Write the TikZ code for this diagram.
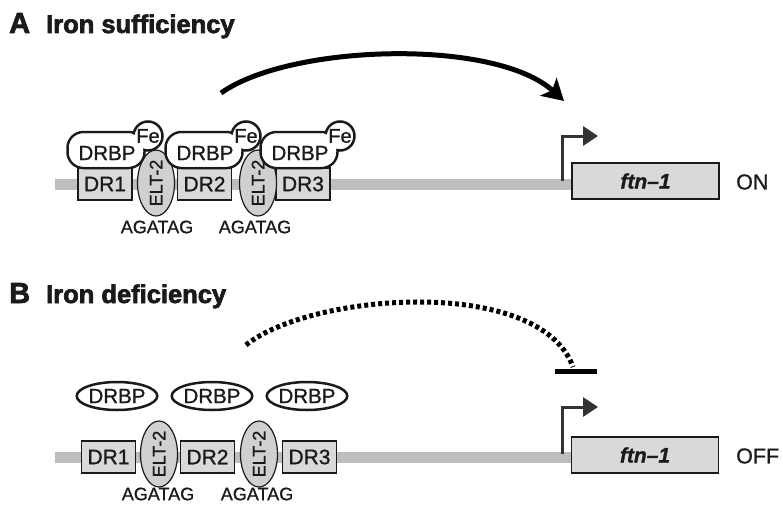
\documentclass[tikz,border=0pt]{standalone}
\usepackage{fontspec}
\setmainfont{Liberation Sans}[FakeBold=1.0]
\newfontfamily\heavyfont{Liberation Sans}[FakeBold=2.5]
\usetikzlibrary{arrows.meta,shapes.geometric}
\definecolor{dnagray}{HTML}{BEBEBE}
\definecolor{boxgray}{HTML}{D9D9D9}
\definecolor{eltgray}{HTML}{D0D0D0}
\definecolor{ink}{HTML}{1A1A1A}
\definecolor{promgray}{HTML}{333333}
\begin{document}
\begin{tikzpicture}[x=1pt,y=-1pt,
  ttl/.style={anchor=base west,inner sep=0pt,text=ink,font=\heavyfont\fontsize{25.5}{25.5}\selectfont\bfseries},
  dna/.style={line width=11pt,draw=dnagray},
  drbox/.style={draw=ink,fill=boxgray,line width=1.4pt,minimum width=54pt,minimum height=32pt,inner sep=0pt,text=ink,font=\fontsize{21}{21}\selectfont},
  elt/.style={ellipse,draw=ink,fill=eltgray,line width=1.2pt,minimum width=65pt,minimum height=37pt,inner sep=0pt,rotate=90,text=ink,font=\fontsize{18}{18}\selectfont},
  site/.style={inner sep=0pt,text=ink,font=\fontsize{18}{18}\selectfont},
  blobbody/.style={draw=ink,fill=white,line width=2.5pt,rounded corners=16pt,minimum width=77pt,minimum height=36pt,inner sep=0pt},
  blobfill/.style={fill=white,rounded corners=14.5pt,minimum width=74pt,minimum height=33pt,inner sep=0pt},
  dtext/.style={inner sep=0pt,text=ink,font=\fontsize{20.5}{20.5}\selectfont},
  fecirc/.style={circle,draw=ink,fill=white,line width=2.5pt,minimum size=29pt,inner sep=0pt},
  fetext/.style={inner sep=0pt,text=ink,font=\fontsize{20}{20}\selectfont},
  oval/.style={ellipse,draw=ink,fill=white,line width=2.5pt,minimum width=72pt,minimum height=28pt,inner sep=0pt,text=ink,font=\fontsize{20.5}{20.5}\selectfont},
  gene/.style={draw=ink,fill=boxgray,line width=1.4pt,minimum width=147pt,minimum height=36pt,inner sep=0pt,text=ink,font=\fontsize{21}{21}\selectfont\bfseries\itshape},
  state/.style={anchor=west,inner sep=0pt,text=ink,font=\fontsize{21.5}{21.5}\selectfont},
  prom/.style={draw=promgray,line width=3pt,-{Triangle[length=15pt,width=19pt]}},
  act/.style={draw=black,line width=5pt,-{Stealth[length=21pt,width=24pt,inset=5pt]}},
  inhib/.style={draw=black,line width=5pt,dash pattern=on 4pt off 3pt},
  bar/.style={draw=black,line width=5pt}
]
\useasboundingbox (0,0) rectangle (783,508);

% ---------------- Panel A ----------------
\node[ttl] (tA) at (9,33) {\fontsize{29}{29}\selectfont A};
\node[ttl] (tAt) at (46,33) {Iron sufficiency};

\coordinate (dnaAl) at (55,184);
\coordinate (dnaAr) at (575,184);
\draw[dna] (dnaAl) -- (dnaAr);

\node[drbox] (aDR1) at (105,184) {DR1};
\node[drbox] (aDR2) at (204.5,184) {DR2};
\node[drbox] (aDR3) at (303,184) {DR3};
\node[elt] (aE1) at (156,183) {ELT-2};
\node[elt] (aE2) at (258,183) {ELT-2};
\node[site] (aS1) at (157,227) {AGATAG};
\node[site] (aS2) at (255,227) {AGATAG};

\foreach \i/\bx/\fx in {1/106/148,2/204/246,3/299/340}{
  \node[blobbody] (aB\i) at (\bx,150) {};
  \node[fecirc] (aF\i) at (\fx,136) {};
  \node[blobfill] (aBf\i) at (\bx,150) {};
  \node[dtext] (aT\i) at (\bx+1,153) {DRBP};
  \node[fetext] (aFe\i) at (\fx,136) {Fe};
}

\node[gene] (aG) at (645.5,181) {ftn\textendash1};
\node[state] (aON) at (736,182) {ON};
\coordinate (aP) at (562,181);
\coordinate (aPt) at (562,136);
\coordinate (aPe) at (598,136);
\draw[prom] (aP) -- (aPt) -- (aPe);

\coordinate (aSrc) at (221,93);
\coordinate (aTgt) at (564,101);
\draw[act] (aSrc) .. controls (290,44) and (495,38) .. (aTgt);

% ---------------- Panel B ----------------
\node[ttl] (tB) at (9,303) {\fontsize{29}{29}\selectfont B};
\node[ttl] (tBt) at (46,303) {Iron deficiency};

\coordinate (dnaBl) at (55,457);
\coordinate (dnaBr) at (575,457);
\draw[dna] (dnaBl) -- (dnaBr);

\node[drbox] (bDR1) at (108.5,457) {DR1};
\node[drbox] (bDR2) at (207.5,457) {DR2};
\node[drbox] (bDR3) at (309.5,457) {DR3};
\node[elt] (bE1) at (159,454) {ELT-2};
\node[elt] (bE2) at (259,454) {ELT-2};
\node[site] (bS1) at (158,494) {AGATAG};
\node[site] (bS2) at (257,494) {AGATAG};

\node[oval] (bO1) at (117,396) {DRBP};
\node[oval] (bO2) at (212,396) {DRBP};
\node[oval] (bO3) at (307,396) {DRBP};

\node[gene] (bG) at (645,455) {ftn\textendash1};
\node[state] (bOFF) at (736,456) {OFF};
\coordinate (bP) at (562,454);
\coordinate (bPt) at (562,407);
\coordinate (bPe) at (598,407);
\draw[prom] (bP) -- (bPt) -- (bPe);

\coordinate (bSrc) at (246,345);
\coordinate (bTgt) at (573,367);
\draw[inhib] (bSrc) .. controls (310,293) and (540,275) .. (bTgt);
\coordinate (barL) at (555,371);
\coordinate (barR) at (597,371);
\draw[bar] (barL) -- (barR);
\end{tikzpicture}
\end{document}
